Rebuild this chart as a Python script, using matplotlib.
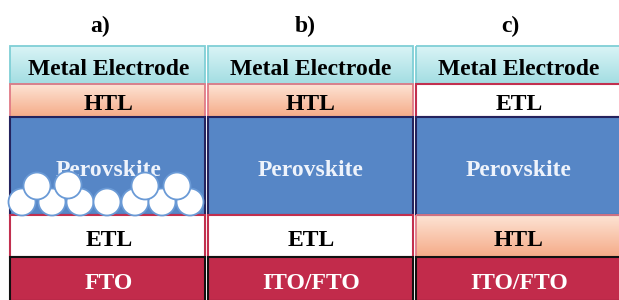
import numpy as np
import matplotlib
matplotlib.use("Agg")
import matplotlib.pyplot as plt
from matplotlib.patches import Rectangle, Circle
from matplotlib.colors import LinearSegmentedColormap

# three device stacks, listed top to bottom
panel_titles = ["a)", "b)", "c)"]
stacks = [
    ["Metal Electrode", "HTL", "Perovskite", "ETL", "FTO"],
    ["Metal Electrode", "HTL", "Perovskite", "ETL", "ITO/FTO"],
    ["Metal Electrode", "ETL", "Perovskite", "HTL", "ITO/FTO"],
]
layer_thickness = [38, 33, 98, 42, 44]   # px, same order as the stacks

# mesoporous scaffold particles in panel a (x, y offset from panel left / ETL top)
np_x = [12, 42, 70, 97, 125, 152, 180, 27, 58, 135, 167]
np_y = [-13, -13, -13, -13, -13, -13, -13, -29, -30, -29, -29]

style = {
    "Metal Electrode": dict(grad=("#d9f4f6", "#a3dde2"), edge="#7fcfd6", tc="black"),
    "HTL": dict(grad=("#fde3d4", "#f5ab88"), edge="#e07a86", tc="black"),
    "Perovskite": dict(face="#5686c6", edge="#24235e", tc="#eef3fb"),
    "ETL": dict(face="white", edge="#c2304f", tc="black"),
    "FTO": dict(face="#c22b4b", edge="#111111", tc="white"),
    "ITO/FTO": dict(face="#c22b4b", edge="#111111", tc="white"),
}

W, H = 619, 300
fig = plt.figure(figsize=(6.19, 3.0), dpi=100)
ax = fig.add_axes([0, 0, 1, 1])
ax.set_xlim(0, W)
ax.set_ylim(H, 0)
ax.axis("off")

panel_left = [10, 208, 416]
panel_width = [195, 205, 210]
text_center = [109, 311, 519]
title_center = [100, 305, 510]
top = 46
font = dict(family="Liberation Serif", weight="bold")

for p, (title, stack) in enumerate(zip(panel_titles, stacks)):
    x0, w = panel_left[p], panel_width[p]
    xc = text_center[p]
    ax.text(title_center[p], 32, title, ha="center", va="baseline",
            fontsize=17, **font)
    y = top
    etl_top = None
    for name, h in zip(stack, layer_thickness):
        s = style[name]
        if "grad" in s:
            cmap = LinearSegmentedColormap.from_list(name, list(s["grad"]))
            g = np.linspace(0, 1, 64).reshape(-1, 1)
            ax.imshow(g, cmap=cmap, extent=(x0, x0 + w, y + h, y),
                      aspect="auto", zorder=1, interpolation="bilinear")
            ax.add_patch(Rectangle((x0, y), w, h, fill=False, ec=s["edge"],
                                   lw=1.3, zorder=2))
        else:
            ax.add_patch(Rectangle((x0, y), w, h, fc=s["face"], ec=s["edge"],
                                   lw=1.5, zorder=2))
        if name == "ETL" and p == 0:
            etl_top = y
        ax.text(xc, y + h / 2 + 10, name, ha="center", va="baseline",
                fontsize=17, color=s["tc"], zorder=3, **font)
        y += h
    if etl_top is not None:
        for cx, cy in zip(np_x, np_y):
            ax.add_patch(Circle((x0 + cx, etl_top + cy), 13.5, fc="white",
                                ec="#6a9ad6", lw=1.3, zorder=4))

fig.savefig("out.png", dpi=100)
